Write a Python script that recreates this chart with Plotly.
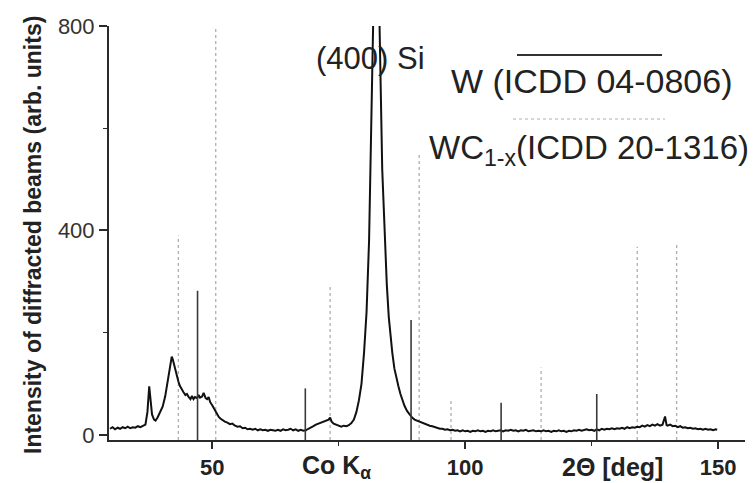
import plotly.graph_objects as go

# ---- measured XRD pattern (2theta in deg, intensity in arb. units) ----
two_theta = [
    29.8, 30.3, 30.8, 31.3, 31.8, 32.3, 32.8, 33.3, 33.8, 34.3, 34.8, 35.3, 35.8, 36.3, 36.8,
    37.2, 37.55, 37.8, 38.1, 38.5, 38.8, 39.2, 39.7, 40.2, 40.7, 41.0, 41.4, 41.7, 42.0, 42.2,
    42.4, 42.7, 43.0, 43.3, 43.6, 44.0, 44.3, 44.7, 45.0, 45.3, 45.7, 46.0, 46.3, 46.6, 47.0,
    47.3, 47.6, 48.0, 48.3, 48.7, 49.0, 49.3, 49.6, 50.0, 50.3, 50.6, 51.0, 51.3, 51.6, 52.0,
    52.5, 53.0, 53.5, 54.0, 54.5, 55.0, 55.5, 56.0, 56.5, 57.0, 57.5, 58.0, 58.5, 59.0, 59.5,
    60.0, 60.5, 61.0, 61.5, 62.0, 62.5, 63.0, 63.5, 64.0, 64.5, 65.0, 65.5, 66.0, 66.5, 67.0,
    67.5, 68.0, 68.5, 69.0, 69.5, 70.0, 70.5, 71.0, 71.5, 72.0, 72.5, 73.0, 73.3, 73.6, 74.0,
    74.5, 75.0, 75.5, 76.0, 76.5, 77.0, 77.5, 78.0, 78.5, 79.0, 79.5, 80.0, 80.5, 81.0, 81.3,
    81.6, 81.8, 82.1, 82.4, 82.7, 83.0, 83.3, 83.6, 83.9, 84.2, 84.5, 84.9, 85.3, 85.6, 86.0,
    86.4, 86.8, 87.2, 87.6, 88.0, 88.5, 89.0, 89.5, 90.0, 90.5, 91.0, 91.5, 92.0, 92.5, 93.0,
    93.5, 94.0, 94.5, 95.0, 95.5, 96.0, 96.5, 97.0, 97.5, 98.0, 98.5, 99.0, 99.5, 100.0, 100.5,
    101.0, 101.5, 102.0, 102.5, 103.0, 103.5, 104.0, 104.5, 105.0, 105.5, 106.0, 106.5, 107.0, 107.5, 108.0,
    108.5, 109.0, 109.5, 110.0, 110.5, 111.0, 111.5, 112.0, 112.5, 113.0, 113.5, 114.0, 114.5, 115.0, 115.5,
    116.0, 116.5, 117.0, 117.5, 118.0, 118.5, 119.0, 119.5, 120.0, 120.5, 121.0, 121.5, 122.0, 122.5, 123.0,
    123.5, 124.0, 124.5, 125.0, 125.5, 126.0, 126.5, 127.0, 127.5, 128.0, 128.5, 129.0, 129.5, 130.0, 130.5,
    131.0, 131.5, 132.0, 132.5, 133.0, 133.5, 134.0, 134.5, 135.0, 135.5, 136.0, 136.5, 137.0, 137.5, 138.0,
    138.5, 139.0, 139.5, 139.8, 140.0, 140.5, 141.0, 141.5, 142.0, 142.5, 143.0, 143.5, 144.0, 144.5, 145.0,
    145.5, 146.0, 146.5, 147.0, 147.5, 148.0, 148.5, 149.0, 149.5, 149.8,
]
intensity = [
    12, 15, 11, 14, 12, 15, 13, 16, 13, 15, 14, 17, 15, 18, 20,
    45, 95, 70, 40, 30, 28, 34, 43, 55, 75, 92, 114, 135, 153, 148,
    140, 125, 114, 105, 96, 88, 84, 78, 80, 75, 70, 76, 70, 74, 72,
    78, 73, 75, 82, 72, 70, 74, 64, 58, 52, 46, 40, 35, 32, 29,
    26, 24, 21, 22, 18, 16, 17, 13, 14, 11, 12, 10, 12, 9, 11,
    9, 10, 8, 10, 9, 8, 10, 8, 11, 9, 10, 12, 9, 11, 8,
    10, 8, 9, 12, 14, 17, 20, 22, 24, 27, 28, 30, 34, 26, 22,
    20, 18, 16, 18, 17, 19, 23, 30, 45, 68, 100, 160, 240, 380, 520,
    650, 800, 1000, 1100, 1000, 820, 630, 520, 445, 360, 295, 230, 185, 160, 130,
    110, 95, 80, 68, 57, 47, 40, 34, 30, 28, 26, 24, 21, 20, 18,
    17, 15, 14, 12, 12, 10, 11, 9, 10, 8, 9, 7, 9, 7, 8,
    6, 8, 7, 9, 7, 8, 6, 8, 7, 9, 7, 8, 9, 7, 9,
    8, 10, 8, 9, 7, 9, 8, 10, 7, 8, 9, 7, 8, 7, 9,
    7, 8, 6, 8, 7, 9, 7, 8, 6, 8, 7, 9, 8, 10, 8,
    9, 11, 9, 10, 8, 11, 9, 12, 10, 12, 11, 13, 11, 13, 12,
    14, 12, 15, 13, 15, 14, 16, 15, 18, 16, 19, 17, 20, 18, 21,
    18, 20, 36, 19, 18, 20, 17, 18, 15, 17, 14, 15, 13, 14, 12,
    13, 11, 12, 10, 12, 10, 11, 9, 11, 10,
]

# ---- reference line positions (ICDD cards) ----
w_pos = [47.1, 68.4, 89.3, 107.1, 126.0]
w_int = [282, 91, 225, 63, 80]
wc_pos = [43.3, 50.7, 73.3, 90.9, 97.2, 115.0, 134.0, 141.8]
wc_int = [390, 800, 293, 548, 72, 132, 368, 373]

x_range = [29.6, 155.3]
y_range = [-10, 800]
y_tick_vals = [0, 400, 800]
x_tick_vals = [50, 100, 150]
x_label_texts = ["Co K<sub>α</sub>", "2Θ [deg]"]
x_label_pos = [74.6, 129.1]

FONT = "Liberation Sans, Arial, sans-serif"


def sticks(pos, heights, base):
    xs, ys = [], []
    for p, h in zip(pos, heights):
        xs += [p, p, None]
        ys += [base, h, None]
    return xs, ys


fig = go.Figure()

wx, wy = sticks(wc_pos, wc_int, y_range[0])
fig.add_trace(go.Scatter(x=wx, y=wy, mode="lines",
                         line=dict(color="#a8a8a8", width=1.2, dash="dot"),
                         showlegend=False, hoverinfo="skip"))

fig.add_trace(go.Scatter(x=two_theta, y=intensity, mode="lines",
                         line=dict(color="#111111", width=2),
                         showlegend=False))

sx, sy = sticks(w_pos, w_int, y_range[0])
fig.add_trace(go.Scatter(x=sx, y=sy, mode="lines",
                         line=dict(color="#3a3a3a", width=1.6),
                         showlegend=False, hoverinfo="skip"))

L, R, T, B = 109, 9, 26, 43
W, H = 754, 483
pw, ph = W - L - R, H - T - B


def px(xp):
    return (xp - L) / pw


def py(yp):
    return (H - B - yp) / ph


annotations = [
    dict(text="<b>Intensity of diffracted beams (arb. units)</b>", textangle=-90,
         xref="paper", yref="paper", x=px(33), y=py(235), xanchor="center", yanchor="middle",
         showarrow=False, font=dict(size=23, family=FONT, color="#222222")),
    dict(text="(400) Si", xref="paper", yref="paper", x=px(314), y=py(58),
         xanchor="left", yanchor="middle", showarrow=False,
         font=dict(size=31, family=FONT, color="#222222")),
    dict(text="W (ICDD 04-0806)", xref="paper", yref="paper", x=px(449), y=py(81),
         xanchor="left", yanchor="middle", showarrow=False,
         font=dict(size=34, family=FONT, color="#222222")),
    dict(text="WC<sub>1-x</sub>(ICDD 20-1316)", xref="paper", yref="paper", x=px(427), y=py(150),
         xanchor="left", yanchor="middle", showarrow=False,
         font=dict(size=33, family=FONT, color="#222222")),
]
for txt, xp, yc in zip(x_label_texts, x_label_pos, [467, 467]):
    annotations.append(dict(text="<b>" + txt + "</b>", xref="x", yref="paper", x=xp, y=py(yc),
                            xanchor="center", yanchor="middle", showarrow=False,
                            font=dict(size=25, family=FONT, color="#222222")))

fig.update_layout(
    template="none",
    width=W, height=H, autosize=False,
    margin=dict(l=L, r=R, t=T, b=B, pad=0),
    paper_bgcolor="white", plot_bgcolor="white",
    font=dict(family=FONT, color="#222222"),
    xaxis=dict(range=x_range, tickmode="array", tickvals=x_tick_vals,
               showgrid=False, zeroline=False, showline=True, linecolor="#2a2a2a", linewidth=2,
               ticks="outside", ticklen=7, tickwidth=1.5, tickcolor="#2a2a2a",
               minor=dict(dtick=25, tick0=0, ticks="outside", ticklen=4, tickwidth=1.2,
                          tickcolor="#2a2a2a"),
               tickfont=dict(size=22, family=FONT, weight="bold", color="#222222"),
               automargin=False),
    yaxis=dict(range=y_range, tickmode="array", tickvals=y_tick_vals,
               showgrid=False, zeroline=False, showline=True, linecolor="#2a2a2a", linewidth=2,
               ticks="outside", ticklen=8, tickwidth=1.5, tickcolor="#2a2a2a",
               minor=dict(dtick=200, tick0=0, ticks="outside", ticklen=4, tickwidth=1.2,
                          tickcolor="#2a2a2a"),
               tickfont=dict(size=22, family=FONT, color="#333333"),
               automargin=False),
    annotations=annotations,
    shapes=[
        dict(type="line", xref="paper", yref="paper", x0=px(517), x1=px(662), y0=py(55), y1=py(55),
             line=dict(color="#333333", width=2)),
        dict(type="line", xref="paper", yref="paper", x0=px(513), x1=px(665), y0=py(119), y1=py(119),
             line=dict(color="#b0b0b0", width=1.2, dash="dot")),
    ],
)

fig.write_html("out.html")
